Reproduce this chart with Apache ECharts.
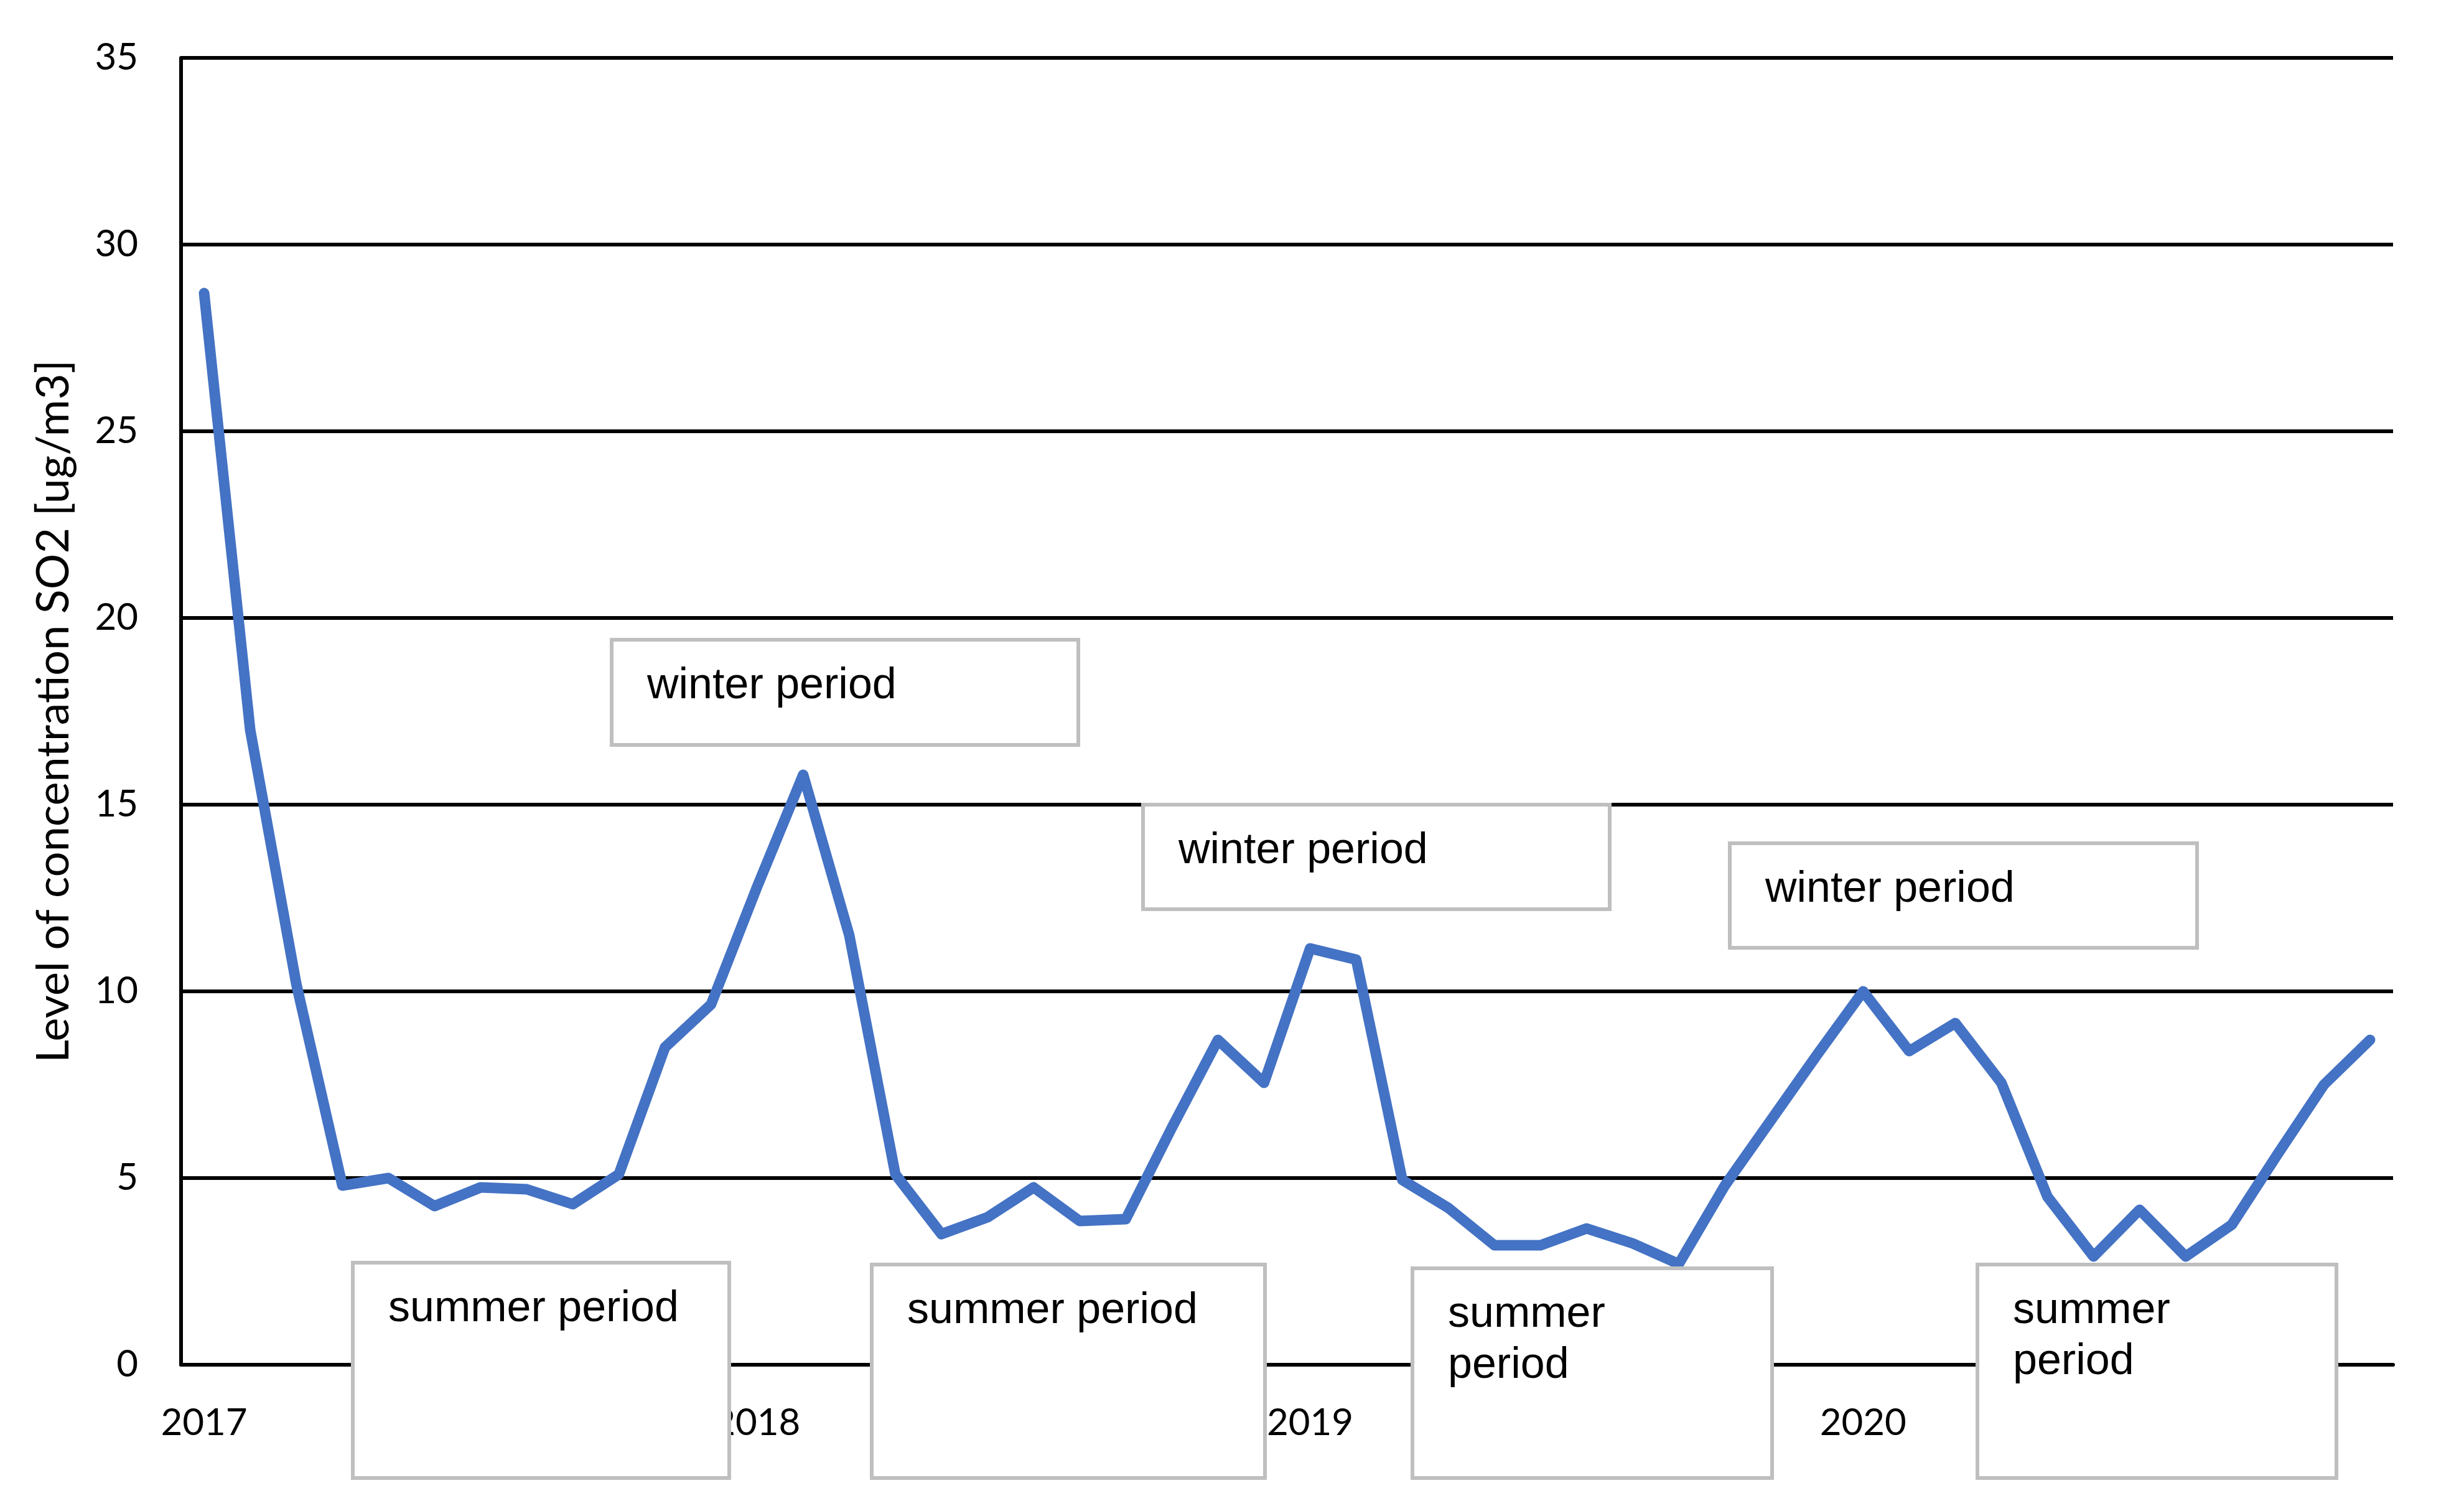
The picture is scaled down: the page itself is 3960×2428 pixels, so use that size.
<!DOCTYPE html>
<html>
<head>
<meta charset="utf-8">
<script src="https://cdn.jsdelivr.net/npm/echarts@6/dist/echarts.min.js"></script>
<style>
  html, body { margin: 0; padding: 0; background: #fff; }
  #chart { width: 3960px; height: 2428px; }
</style>
</head>
<body>
<div id="chart"></div>
<script>
// monthly SO2 readings, Jan 2017 .. Dec 2020
const years = ['2017', '2018', '2019', '2020'];
const months = ['01', '02', '03', '04', '05', '06', '07', '08', '09', '10', '11', '12'];
const so2 = [
  28.7, 17.0, 10.2, 4.8, 5.0, 4.25, 4.75, 4.7, 4.3, 5.1, 8.5, 9.65,
  12.8, 15.8, 11.5, 5.1, 3.5, 3.95, 4.75, 3.85, 3.9, 6.35, 8.7, 7.55,
  11.15, 10.85, 4.95, 4.2, 3.2, 3.2, 3.65, 3.25, 2.7, 4.8, 6.55, 8.3,
  10.0, 8.4, 9.15, 7.55, 4.5, 2.9, 4.15, 2.9, 3.75, 5.65, 7.5, 8.7
];
const yTicks = [0, 5, 10, 15, 20, 25, 30, 35];
const noteTexts = [
  'winter period', 'winter period', 'winter period',
  'summer period', 'summer period', 'summer\nperiod', 'summer\nperiod'
];

const categories = years.flatMap(y => months.map(m => y + '-' + m));

// text boxes placed like in the original figure: [left, top, width, height]
const noteBoxes = [
  [983, 1028, 750, 169],
  [1837, 1293, 750, 168],
  [2780, 1355, 751, 168],
  [567, 2029, 605, 346],
  [1401, 2032, 632, 343],
  [2270, 2038, 578, 337],
  [3178, 2032, 577, 343]
];

const tickFont = 'Lato';
const chart = echarts.init(document.getElementById('chart'));

const graphics = noteTexts.map((txt, i) => {
  const [left, top, w, h] = noteBoxes[i];
  return {
    type: 'group',
    left: left - 3,
    top: top - 3,
    z: 100,
    children: [
      {
        type: 'rect',
        z: 100,
        shape: { x: 3, y: 3, width: w, height: h },
        style: { fill: '#fff', stroke: '#bfbfbf', lineWidth: 6 }
      },
      {
        type: 'text',
        z: 101,
        x: 60,
        y: 37,
        style: {
          text: txt,
          fill: '#000',
          fontFamily: '"Liberation Sans", Arial, sans-serif',
          fontSize: 70,
          lineHeight: 82,
          verticalAlign: 'top'
        }
      }
    ]
  };
});

chart.setOption({
  animation: false,
  backgroundColor: '#fff',
  grid: { left: 291, right: 114, top: 93, bottom: 235, containLabel: false },
  xAxis: {
    type: 'category',
    data: categories,
    boundaryGap: true,
    axisLine: { show: true, lineStyle: { color: '#000', width: 6 } },
    axisTick: { show: false },
    axisLabel: {
      interval: 11,
      margin: 64,
      color: '#000',
      fontFamily: tickFont,
      fontSize: 60,
      formatter: v => v.slice(0, 4)
    },
    splitLine: { show: false }
  },
  yAxis: {
    type: 'value',
    min: yTicks[0],
    max: yTicks[yTicks.length - 1],
    interval: yTicks[1] - yTicks[0],
    name: 'Level of concentration SO2 [ug/m3]',
    nameLocation: 'middle',
    nameGap: 168,
    nameTextStyle: { color: '#000', fontFamily: tickFont, fontSize: 72 },
    axisLine: { show: true, lineStyle: { color: '#000', width: 6 } },
    axisTick: { show: false },
    axisLabel: { margin: 69, color: '#000', fontFamily: tickFont, fontSize: 60 },
    splitLine: { show: true, lineStyle: { color: '#000', width: 6 } }
  },
  series: [{
    type: 'line',
    data: so2,
    showSymbol: false,
    symbol: 'none',
    lineStyle: { color: '#4472c4', width: 17, cap: 'round', join: 'round' },
    z: 5
  }],
  graphic: graphics
});
</script>
</body>
</html>
